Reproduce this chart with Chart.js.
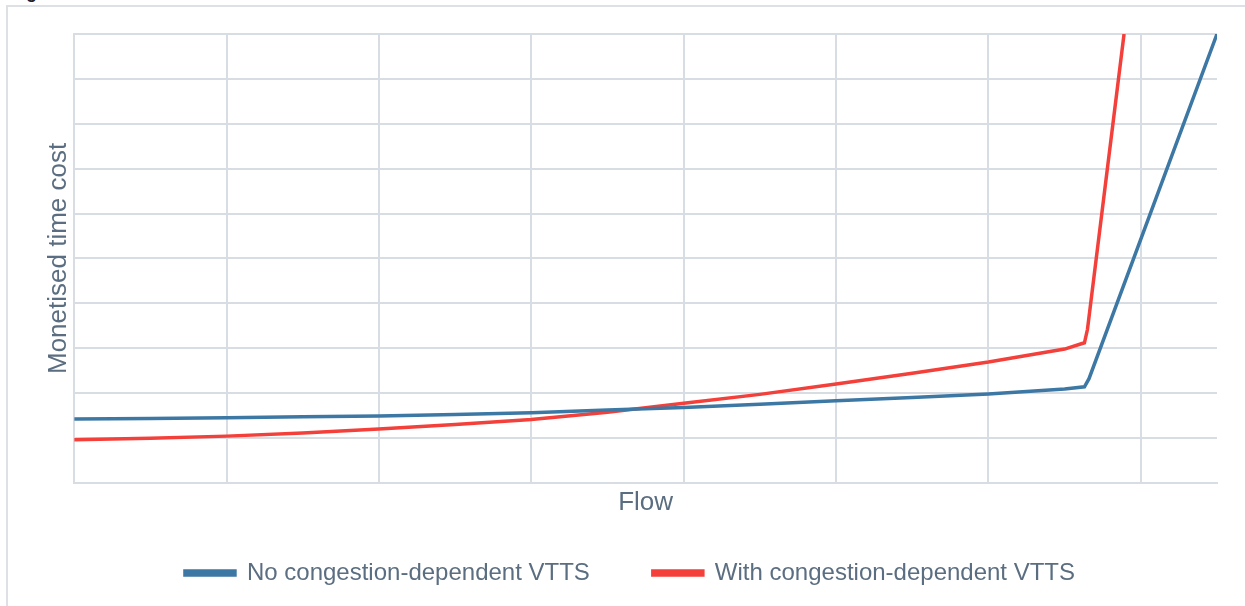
<!DOCTYPE html>
<html>
<head>
<meta charset="utf-8">
<script src="https://cdn.jsdelivr.net/npm/chart.js@4.4.0/dist/chart.umd.min.js"></script>
<style>
  html, body { margin: 0; padding: 0; background: #ffffff; overflow: hidden; }
  body { width: 1245px; height: 606px; position: relative; font-family: "Liberation Sans", Arial, sans-serif; }
  #caption { position: absolute; left: 10px; top: -17px; font-size: 18px; line-height: 18px; font-weight: bold; color: #222222; white-space: nowrap; }
  #frame { position: absolute; left: 6px; top: 5px; width: 1400px; height: 800px; border-top: 2px solid #dde1e6; border-left: 2px solid #dde1e6; }
  #wrap { position: absolute; left: 7px; top: 0; width: 1248px; height: 595px; }
</style>
</head>
<body>
<div id="caption">Figure</div>
<div id="frame"></div>
<div id="wrap"><canvas id="costChart"></canvas></div>
<script>
// Flow (x) and monetised time cost (y) (no axis numbers shown)
const noVttsFlow = [0, 0.5, 1, 1.5, 2, 2.5, 3, 3.5, 4, 4.5, 5, 5.5, 6, 6.5, 6.63, 6.66, 7.5];
const noVttsCost = [1.42, 1.43, 1.45, 1.47, 1.49, 1.52, 1.56, 1.62, 1.68, 1.75, 1.83, 1.9, 1.98, 2.09, 2.14, 2.32, 10];

const withVttsFlow = [0, 0.5, 1, 1.5, 2, 2.5, 3, 3.5, 4, 4.5, 5, 5.5, 6, 6.5, 6.63, 6.65, 6.89];
const withVttsCost = [0.96, 0.99, 1.04, 1.11, 1.2, 1.3, 1.41, 1.57, 1.77, 1.97, 2.2, 2.44, 2.69, 2.98, 3.12, 3.42, 10];

const seriesLabels = ["No congestion-dependent VTTS", "With congestion-dependent VTTS"];

const toPoints = (xs, ys) => xs.map((x, i) => ({ x: x, y: ys[i] }));

const textColor = "#5b6e81";
const gridColor = "#d8dde3";
const fontFamily = "'Liberation Sans', Arial, sans-serif";

const ctx = document.getElementById("costChart").getContext("2d");
window.costChart = new Chart(ctx, {
  type: "line",
  data: {
    datasets: [
      {
        label: seriesLabels[0],
        data: toPoints(noVttsFlow, noVttsCost),
        borderColor: "#3d78a4",
        backgroundColor: "#3d78a4",
        borderWidth: 3.5,
        pointRadius: 0,
        tension: 0,
      },
      {
        label: seriesLabels[1],
        data: toPoints(withVttsFlow, withVttsCost),
        borderColor: "#f4403a",
        backgroundColor: "#f4403a",
        borderWidth: 3.5,
        pointRadius: 0,
        tension: 0,
      },
    ],
  },
  options: {
    responsive: true,
    maintainAspectRatio: false,
    animation: false,
    layout: {
      padding: { top: 34, left: 36, right: 38, bottom: 0 },
    },
    scales: {
      x: {
        type: "linear",
        min: 0,
        max: 7.5,
        afterBuildTicks: (scale) => {
          scale.ticks = scale.ticks.filter((t) => t.value <= 7);
        },
        ticks: { display: false, stepSize: 1 },
        grid: { color: gridColor, lineWidth: 2, drawTicks: false },
        border: { color: gridColor, width: 2 },
        title: {
          display: true,
          text: "Flow",
          color: textColor,
          font: { size: 26, family: fontFamily },
          padding: { top: 4, bottom: -20 },
        },
      },
      y: {
        min: 0,
        max: 10,
        ticks: { display: false, stepSize: 1 },
        grid: { color: gridColor, lineWidth: 2, drawTicks: false },
        border: { color: gridColor, width: 2 },
        title: {
          display: true,
          text: "Monetised time cost",
          color: textColor,
          font: { size: 26, family: fontFamily },
          padding: { top: 0, bottom: 0 },
        },
      },
    },
    plugins: {
      legend: {
        position: "bottom",
        labels: {
          color: textColor,
          boxWidth: 50,
          boxHeight: 4,
          padding: 63,
          font: { size: 24, family: fontFamily },
        },
      },
      tooltip: { enabled: false },
    },
  },
});
</script>
</body>
</html>
